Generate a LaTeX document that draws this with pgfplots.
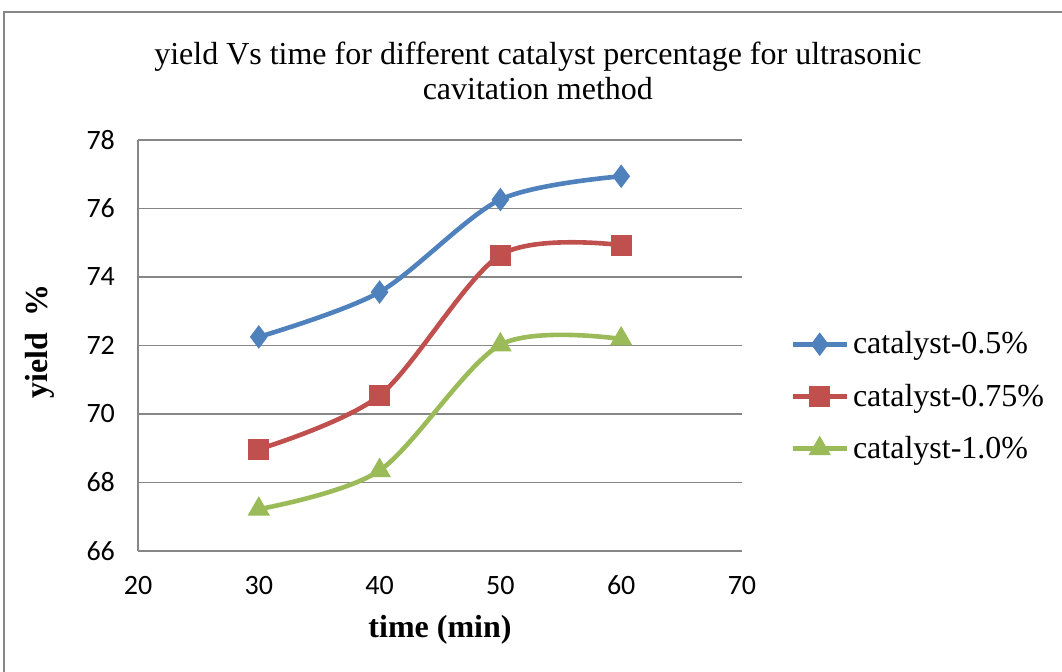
\documentclass[border=0pt]{standalone}
\usepackage{pgfplots}
\pgfplotsset{compat=1.18}
\usepackage{fontspec}
\setmainfont{Liberation Serif}
\newfontfamily\carlito{Carlito}
\definecolor{sblue}{HTML}{4F81BD}
\definecolor{sred}{HTML}{C0504D}
\definecolor{sgreen}{HTML}{9BBB59}
\definecolor{agray}{HTML}{868686}
\begin{document}
\begin{tikzpicture}
\path[use as bounding box] (-69pt,275.5pt) rectangle (462pt,-60.5pt);
\draw[agray,line width=0.8pt] (-67pt,269.5pt) rectangle (480pt,-80pt);
\begin{axis}[
  at={(0pt,0pt)}, anchor=south west,
  scale only axis, width=302pt, height=205.5pt,
  xmin=20, xmax=70, ymin=66, ymax=78,
  xtick={20,30,40,50,60,70}, ytick={66,68,70,72,74,76,78},
  axis x line*=bottom, axis y line*=left,
  axis line style={agray, line width=0.8pt, -},
  major tick length=0pt,
  ymajorgrids, grid style={agray, line width=0.7pt},
  /pgf/number format/assume math mode=true,
  ticklabel style={font=\carlito\fontsize{14}{16}\selectfont},
  yticklabel style={xshift=-8pt},
  xticklabel style={yshift=-9pt},
  title={yield Vs time for different catalyst percentage for ultrasonic\\cavitation method},
  title style={at={(0.662,1.139)}, anchor=center, align=center, font=\fontsize{16}{17.5}\selectfont},
  xlabel={time (min)},
  xlabel style={at={(0.5,-0.192)}, anchor=center, font=\bfseries\fontsize{16}{18}\selectfont},
  ylabel={yield\ \ \%},
  ylabel style={at={(-0.162,0.51)}, anchor=center, rotate=0, font=\bfseries\fontsize{16}{18}\selectfont},
  legend style={at={(1.0795,0.376)}, anchor=west, draw=none, fill=none,
    font=\fontsize{16}{18}\selectfont, row sep=9.5pt,
    legend cell align=left, inner sep=0pt,
    /tikz/every even column/.append style={column sep=0pt}},
  legend image code/.code={\draw[mark repeat=2,mark phase=2,#1] plot coordinates {(0pt,0pt) (13.5pt,0pt) (27pt,0pt)};},
  clip=false,
]
\addplot[sblue, line width=2.3pt, smooth, mark=diamond*, mark size=5.5pt, mark options={solid, fill=sblue, line width=0.5pt}]
  coordinates {(30,72.25) (40,73.56) (50,76.26) (60,76.94)};
\addlegendentry{catalyst-0.5\%}
\addplot[sred, line width=2.3pt, smooth, mark=square*, mark size=5pt, mark options={solid, fill=sred, line width=0.5pt}]
  coordinates {(30,68.97) (40,70.54) (50,74.64) (60,74.93)};
\addlegendentry{catalyst-0.75\%}
\addplot[sgreen, line width=2.3pt, smooth, mark=triangle*, mark size=6pt, mark options={solid, fill=sgreen, line width=0.5pt}]
  coordinates {(30,67.22) (40,68.35) (50,72.02) (60,72.19)};
\addlegendentry{catalyst-1.0\%}
\end{axis}
\end{tikzpicture}
\end{document}
